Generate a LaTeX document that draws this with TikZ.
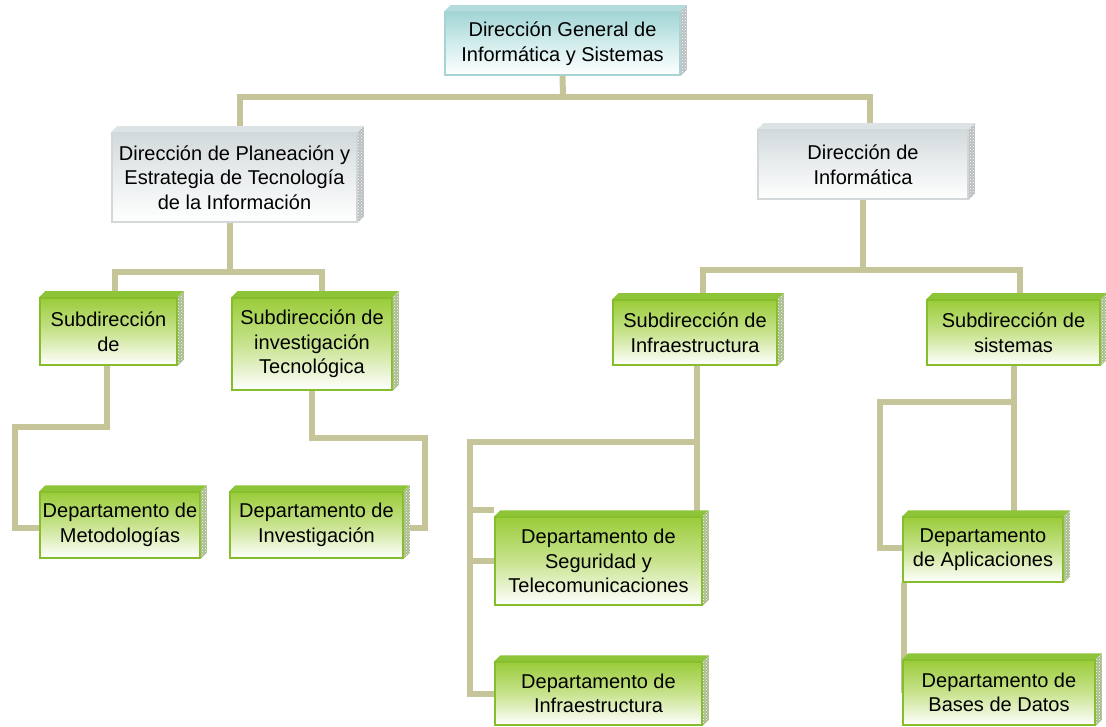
\documentclass[tikz,border=0pt]{standalone}
\usepackage{fontspec}
\setmainfont{Liberation Sans}
\usetikzlibrary{patterns,backgrounds}

\definecolor{conn}{HTML}{C6C59A}
\definecolor{grline}{HTML}{86BD2B}
\definecolor{grtop}{HTML}{9ACC3A}
\definecolor{grmid}{HTML}{C8E38E}
\definecolor{grface}{HTML}{8EC437}
\definecolor{grside}{HTML}{A9BC8C}
\definecolor{tlline}{HTML}{A6D3D3}
\definecolor{tltop}{HTML}{A2D5D5}
\definecolor{tlmid}{HTML}{D2ECEC}
\definecolor{tlface}{HTML}{B4DCDC}
\definecolor{gyline}{HTML}{D2D8DA}
\definecolor{gytop}{HTML}{D3DADC}
\definecolor{gymid}{HTML}{E9EDEE}
\definecolor{gyface}{HTML}{DDE2E4}
\definecolor{gyside}{HTML}{B9BEC0}

\tikzset{
  box/.style={inner sep=2pt, align=center, line width=1.5pt,
    font=\fontsize{20}{24.5}\selectfont},
  gbox/.style={box, draw=grline, top color=grtop, bottom color=white, middle color=grmid},
  tbox/.style={box, draw=tlline, top color=tltop, bottom color=white, middle color=tlmid},
  ybox/.style={box, draw=gyline, top color=gytop, bottom color=white, middle color=gymid},
  link/.style={draw=conn, line width=6pt},
}

% top and right faces of a raised box: node, top-face colour, side-face colour
\newcommand\extrude[3]{%
  \fill[#2] (#1.north west) -- ++(6pt,6pt) -- ([shift={(6pt,6pt)}]#1.north east)
    -- (#1.north east) -- cycle;
  \fill[#3] (#1.north east) -- ++(6pt,6pt) -- ([shift={(6pt,6pt)}]#1.south east)
    -- (#1.south east) -- cycle;
  \fill[pattern=crosshatch dots, pattern color=white] (#1.north east) -- ++(6pt,6pt)
    -- ([shift={(6pt,6pt)}]#1.south east) -- (#1.south east) -- cycle;
}

\begin{document}
\begin{tikzpicture}[x=1pt, y=-1pt]
\useasboundingbox (0,0) rectangle (1106,727);

% level 1
\node[tbox, minimum width=235pt, minimum height=63pt] (top) at (562.5,43.5)
  {Dirección General de\\Informática y Sistemas};
\extrude{top}{tlface}{gyside}

% level 2
\node[ybox, minimum width=245pt, minimum height=89pt] (pl) at (234.5,177.5)
  {Dirección de Planeación y\\Estrategia de Tecnología\\de la Información};
\extrude{pl}{gyface}{gyside}
\node[ybox, minimum width=210pt, minimum height=69pt] (inf) at (863,164.5)
  {Dirección de\\Informática};
\extrude{inf}{gyface}{gyside}

% level 3
\node[gbox, minimum width=137pt, minimum height=67pt] (sA) at (108.5,331.5)
  {Subdirección\\de};
\extrude{sA}{grface}{grside}
\node[gbox, minimum width=160pt, minimum height=92pt] (sB) at (312,344)
  {Subdirección de\\investigación\\Tecnológica};
\extrude{sB}{grface}{grside}
\node[gbox, minimum width=164pt, minimum height=65pt] (sC) at (695,332.5)
  {Subdirección de\\Infraestructura};
\extrude{sC}{grface}{grside}
\node[gbox, minimum width=173pt, minimum height=65pt] (sD) at (1013.5,332.5)
  {Subdirección de\\sistemas};
\extrude{sD}{grface}{grside}

% level 4
\node[gbox, minimum width=160pt, minimum height=66pt] (dA) at (120,525)
  {Departamento de\\Metodologías};
\extrude{dA}{grface}{grside}
\node[gbox, minimum width=173pt, minimum height=66pt] (dB) at (316.5,525)
  {Departamento de\\Investigación};
\extrude{dB}{grface}{grside}
\node[gbox, minimum width=207pt, minimum height=88pt] (dC) at (598.5,561)
  {Departamento de\\Seguridad y\\Telecomunicaciones};
\extrude{dC}{grface}{grside}
\node[gbox, minimum width=207pt, minimum height=63pt] (dD) at (598.5,693.5)
  {Departamento de\\Infraestructura};
\extrude{dD}{grface}{grside}
\node[gbox, minimum width=160pt, minimum height=65pt] (dE) at (983,549.5)
  {Departamento\\de Aplicaciones};
\extrude{dE}{grface}{grside}
\node[gbox, minimum width=192pt, minimum height=65pt] (dF) at (999,692.5)
  {Departamento de\\Bases de Datos};
\extrude{dF}{grface}{grside}

% connectors, behind the boxes
\begin{pgfonlayer}{background}
  \coordinate (j0) at (563,97);
  \draw[link] (top.south) -- (j0);
  \draw[link] ([xshift=5.5pt]pl.north) |- (j0) -| ([xshift=7pt]inf.north);

  \coordinate (j1) at (230,272);
  \draw[link] (j1) -- (j1 |- pl.south);
  \draw[link] ([xshift=6.5pt]sA.north) |- (j1) -| ([xshift=10pt]sB.north);

  \coordinate (j2) at (863,270);
  \draw[link] (inf.south) -- (j2);
  \draw[link] ([xshift=8pt]sC.north) |- (j2) -| ([xshift=6.5pt]sD.north);

  \coordinate (a1) at (15,427);
  \draw[link] ([xshift=-1.5pt]sA.south) |- (a1) |- ([yshift=-3pt]dA.west);

  \coordinate (b1) at (425,438);
  \draw[link] (sB.south) |- (b1) |- ([yshift=-3pt]dB.east);

  \coordinate (c0) at ([xshift=2pt]sC.south);
  \coordinate (c1) at (470,442);
  \coordinate (c2) at ([yshift=6pt]dC.north west);
  \draw[link] (c0) -- (c0 |- dC.north);
  \draw[link] (c0 |- c1) -- (c1) |- (dD.west);
  \draw[link] (c1 |- c2) -- (c2);
  \draw[link] (c1 |- dC.west) -- (dC.west);

  \coordinate (d1) at (880,402);
  \draw[link] (sD.south) -- (sD.south |- dE.north);
  \draw[link] (sD.south |- d1) -- (d1) |- ([yshift=2pt]dE.west);
  \draw[link] ([xshift=2pt]dE.south west) -- ([xshift=2pt]dF.west);
\end{pgfonlayer}
\end{tikzpicture}
\end{document}
